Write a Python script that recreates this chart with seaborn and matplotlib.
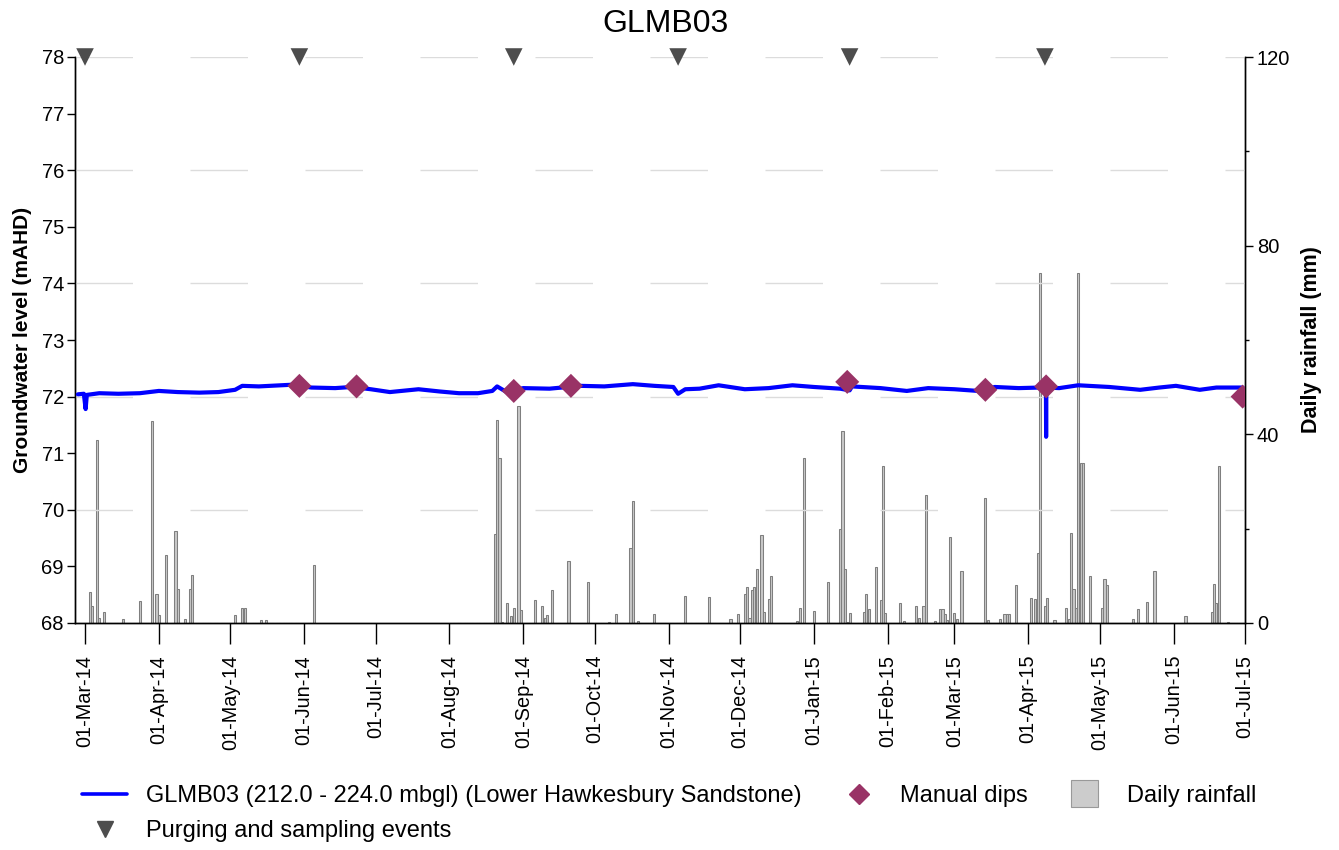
import numpy as np
import pandas as pd
import matplotlib
matplotlib.use("Agg")
import matplotlib.pyplot as plt
import matplotlib.dates as mdates
from matplotlib.lines import Line2D
from matplotlib.patches import Patch, Rectangle
from matplotlib.legend_handler import HandlerPatch
from matplotlib.ticker import FixedLocator
import seaborn as sns

# ---------------- data ----------------
gw_times = ["2014-02-26", "2014-02-28 12:00", "2014-03-01 06:00", "2014-03-01 18:00",
            "2014-03-07", "2014-03-15", "2014-03-24", "2014-04-01", "2014-04-09",
            "2014-04-18", "2014-04-26", "2014-05-03", "2014-05-06", "2014-05-13",
            "2014-05-27", "2014-06-04", "2014-06-14", "2014-06-21", "2014-06-29",
            "2014-07-07", "2014-07-19", "2014-07-28", "2014-08-05", "2014-08-13",
            "2014-08-19", "2014-08-21", "2014-08-25", "2014-09-01", "2014-09-12",
            "2014-09-25", "2014-10-05", "2014-10-17", "2014-10-26", "2014-11-03",
            "2014-11-05", "2014-11-08", "2014-11-14", "2014-11-22", "2014-12-03",
            "2014-12-13", "2014-12-23", "2015-01-01", "2015-01-12", "2015-01-16",
            "2015-01-17", "2015-01-29", "2015-02-09", "2015-02-18", "2015-03-01",
            "2015-03-11", "2015-03-18", "2015-03-28", "2015-04-06", "2015-04-08 10:00",
            "2015-04-08 12:00", "2015-04-08 14:00", "2015-04-14", "2015-04-22",
            "2015-05-05", "2015-05-18", "2015-05-26", "2015-06-02", "2015-06-12",
            "2015-06-19", "2015-06-30"]
gw_levels = [72.04, 72.05, 71.78, 72.03,
             72.06, 72.05, 72.06, 72.10, 72.08,
             72.07, 72.08, 72.12, 72.19, 72.18,
             72.21, 72.16, 72.15, 72.17, 72.13,
             72.08, 72.13, 72.09, 72.06, 72.06,
             72.10, 72.18, 72.08, 72.15, 72.14,
             72.19, 72.18, 72.22, 72.19, 72.17,
             72.05, 72.13, 72.14, 72.20, 72.13,
             72.15, 72.20, 72.17, 72.14, 72.11,
             72.18, 72.15, 72.10, 72.15, 72.13,
             72.10, 72.17, 72.15, 72.16, 72.16,
             71.29, 72.16, 72.15, 72.20,
             72.17, 72.12, 72.16, 72.19, 72.12,
             72.16, 72.16]

dip_dates = ["2014-05-30", "2014-06-23", "2014-08-28", "2014-09-21",
             "2015-01-15", "2015-03-14", "2015-04-08 12:00", "2015-06-30"]
dip_levels = [72.19, 72.18, 72.10, 72.19, 72.26, 72.12, 72.18, 72.00]

event_dates = ["2014-03-01", "2014-05-30", "2014-08-28", "2014-11-05",
               "2015-01-16", "2015-04-08"]

rain_periods = [("2014-02-26", "2014-06-05"), ("2014-08-03", "2015-06-30")]
rain_dates = ["2014-03-03", "2014-03-04", "2014-03-06", "2014-03-07", "2014-03-09",
              "2014-03-17", "2014-03-24", "2014-03-29", "2014-03-31", "2014-04-01",
              "2014-04-04", "2014-04-08", "2014-04-09", "2014-04-12", "2014-04-14",
              "2014-04-15", "2014-05-03", "2014-05-06", "2014-05-07", "2014-05-14",
              "2014-05-16", "2014-06-05", "2014-08-20", "2014-08-21", "2014-08-22",
              "2014-08-23", "2014-08-25", "2014-08-27", "2014-08-28", "2014-08-30",
              "2014-08-31", "2014-09-06", "2014-09-09", "2014-09-10", "2014-09-11",
              "2014-09-13", "2014-09-20", "2014-09-28", "2014-10-07", "2014-10-10",
              "2014-10-16", "2014-10-17", "2014-10-19", "2014-10-26", "2014-11-08",
              "2014-11-18", "2014-11-27", "2014-11-30", "2014-12-03", "2014-12-04",
              "2014-12-05", "2014-12-06", "2014-12-07", "2014-12-08", "2014-12-10",
              "2014-12-11", "2014-12-13", "2014-12-14", "2014-12-25", "2014-12-26",
              "2014-12-28", "2015-01-01", "2015-01-07", "2015-01-12", "2015-01-13",
              "2015-01-14", "2015-01-15", "2015-01-16", "2015-01-22", "2015-01-23",
              "2015-01-24", "2015-01-27", "2015-01-29", "2015-01-30", "2015-01-31",
              "2015-02-06", "2015-02-08", "2015-02-13", "2015-02-14", "2015-02-16",
              "2015-02-17", "2015-02-21", "2015-02-23", "2015-02-24", "2015-02-25",
              "2015-02-26", "2015-02-27", "2015-03-01", "2015-03-02", "2015-03-04",
              "2015-03-14", "2015-03-15", "2015-03-20", "2015-03-22", "2015-03-23",
              "2015-03-24", "2015-03-27", "2015-04-02", "2015-04-04", "2015-04-05",
              "2015-04-06", "2015-04-08", "2015-04-09", "2015-04-12", "2015-04-17",
              "2015-04-18", "2015-04-19", "2015-04-20", "2015-04-21", "2015-04-22",
              "2015-04-23", "2015-04-24", "2015-04-27", "2015-05-02", "2015-05-03",
              "2015-05-04", "2015-05-15", "2015-05-17", "2015-05-21", "2015-05-24",
              "2015-06-06", "2015-06-17", "2015-06-18", "2015-06-19", "2015-06-20",
              "2015-06-24"]
rain_mm = [6.5, 3.5, 38.8, 1.1, 2.3,
           0.8, 4.7, 42.8, 6.1, 1.8,
           14.4, 19.4, 7.2, 0.8, 7.3,
           10.2, 1.8, 3.1, 3.1, 0.6,
           0.6, 12.4, 18.8, 43.0, 35.0,
           0.3, 4.3, 1.5, 3.1, 46.1,
           2.8, 4.9, 3.5, 1.0, 1.8,
           6.9, 13.2, 8.6, 0.2, 1.9,
           15.8, 25.8, 0.5, 1.9, 5.7,
           5.6, 0.8, 1.9, 6.1, 7.6,
           1.1, 7.1, 7.6, 11.4, 18.7,
           2.4, 5.0, 9.9, 0.5, 3.1,
           35.0, 2.5, 8.6, 19.9, 40.7,
           11.4, 0.3, 2.2, 2.4, 6.1,
           3.0, 11.9, 4.9, 33.3, 2.2,
           4.3, 0.5, 3.5, 1.0, 3.5,
           27.1, 0.5, 3.0, 3.0, 2.0,
           0.7, 18.2, 2.1, 0.8, 11.1,
           26.4, 0.6, 0.8, 2.0, 2.0,
           2.0, 8.1, 5.2, 5.0, 14.9,
           74.1, 3.5, 5.2, 0.6, 3.2,
           0.8, 19.0, 7.2, 3.2, 74.1,
           33.9, 33.9, 10.0, 3.2, 9.3,
           8.1, 0.8, 3.0, 4.5, 11.1,
           1.5, 2.4, 8.2, 4.3, 33.3,
           0.2]

y_ticks_left = list(range(68, 79))
y_ticks_right = [0, 40, 80, 120]
title = "GLMB03"
line_label = "GLMB03 (212.0 - 224.0 mbgl) (Lower Hawkesbury Sandstone)"

# ---------------- frames ----------------
gw = pd.DataFrame({"time": pd.to_datetime(gw_times, format="mixed"), "level": gw_levels})
dips = pd.DataFrame({"time": pd.to_datetime(dip_dates, format="mixed"), "level": dip_levels})
events = pd.DataFrame({"time": pd.to_datetime(event_dates), "level": 78.0})
rain_events = pd.Series(rain_mm, index=pd.to_datetime(rain_dates))
days = pd.DatetimeIndex(np.concatenate([pd.date_range(a, b, freq="D").values
                                        for a, b in rain_periods]))
rain = rain_events.reindex(days.union(rain_events.index)).fillna(0.0)

# ---------------- style ----------------
sns.set_theme(style="white")
plt.rcParams["font.family"] = ["Liberation Sans", "DejaVu Sans"]
for k in ("text.color", "axes.labelcolor", "xtick.color", "ytick.color", "axes.edgecolor"):
    plt.rcParams[k] = "black"

fig = plt.figure(figsize=(13.39, 8.5), dpi=100)
ax = fig.add_axes([75 / 1339, 1 - 623 / 850, 1170 / 1339, 566 / 850])
ax2 = ax.twinx()

# rainfall bars (secondary axis, behind)
ax2.bar(rain.index, rain.values, width=0.9, color="#c8c8c8",
        edgecolor="#7f7f7f", linewidth=0.75, zorder=2)
ax2.set_ylim(0, 120)
ax2.set_yticks(y_ticks_right)
ax2.yaxis.set_minor_locator(FixedLocator([20, 60, 100]))
ax2.tick_params(axis="y", which="major", direction="out", length=6, width=1,
                labelsize=14.5, pad=2.5, right=True)
ax2.tick_params(axis="y", which="minor", direction="out", length=3, width=1, right=True)
ax2.set_ylabel("Daily rainfall (mm)", fontsize=15.5, fontweight="bold", labelpad=8)
ax2.grid(False)

ax.set_zorder(ax2.get_zorder() + 1)
ax.patch.set_visible(False)

# grid lines (dashed, light)
for yv in range(70, 79, 2):
    ax.axhline(yv, color="#dcdcdc", lw=1.0, ls=(0, (41.4, 41.4)), zorder=0)

sns.lineplot(data=gw, x="time", y="level", ax=ax, color="#0000ff", lw=3.0,
             estimator=None, sort=False, legend=False, zorder=3)
sns.scatterplot(data=dips, x="time", y="level", ax=ax, marker="D", s=150,
                color="#993366", edgecolor="none", zorder=4, legend=False)
sns.scatterplot(data=events, x="time", y="level", ax=ax, marker="v", s=160,
                color="#4d4d4d", edgecolor="none", zorder=5, legend=False,
                clip_on=False)

ax.set_xlim(pd.Timestamp("2014-02-24 19:00"), pd.Timestamp("2015-07-01"))
ax.set_ylim(68, 78)
ax.set_yticks(y_ticks_left)
ax.set_ylabel("Groundwater level (mAHD)", fontsize=15, fontweight="bold", labelpad=7)
ax.set_xlabel("")
ax.xaxis.set_major_locator(mdates.MonthLocator(bymonthday=1))
ax.xaxis.set_major_formatter(mdates.DateFormatter("%d-%b-%y"))
ax.tick_params(axis="x", direction="out", length=15, width=1, labelsize=14.3,
               rotation=90, pad=8, bottom=True)
ax.tick_params(axis="y", direction="out", length=6, width=1, labelsize=14.5, pad=2, left=True)
ax.grid(False)

for a in (ax, ax2):
    a.spines["top"].set_visible(False)
    for s in ("left", "right", "bottom"):
        a.spines[s].set_color("black")
        a.spines[s].set_linewidth(1.0)

ax.set_title(title, fontsize=23, pad=18, x=0.505)


# legend
def square_patch(legend, orig_handle, xdescent, ydescent, width, height, fontsize):
    side = 19.5
    cx = -xdescent + width / 2
    cy = -ydescent + height / 2
    return Rectangle((cx - side / 2, cy - side / 2), side, side)


handles = [
    Line2D([], [], color="#0000ff", lw=2.6),
    Line2D([], [], color="#4d4d4d", marker="v", ls="none", markersize=12),
    Line2D([], [], color="#993366", marker="D", ls="none", markersize=10),
    Patch(facecolor="#cccccc", edgecolor="#999999", linewidth=0.8),
]
labels = [line_label, "Purging and sampling events", "Manual dips", "Daily rainfall"]
fig.legend(handles, labels, loc="upper left", bbox_to_anchor=(82 / 1339, 1 - 785 / 850),
           ncol=3, frameon=False, fontsize=17, handlelength=1.92, handletextpad=0.8,
           columnspacing=1.45, labelspacing=0.55, borderaxespad=0, borderpad=0,
           handler_map={Patch: HandlerPatch(patch_func=square_patch)})

fig.savefig("out.png", dpi=100)
